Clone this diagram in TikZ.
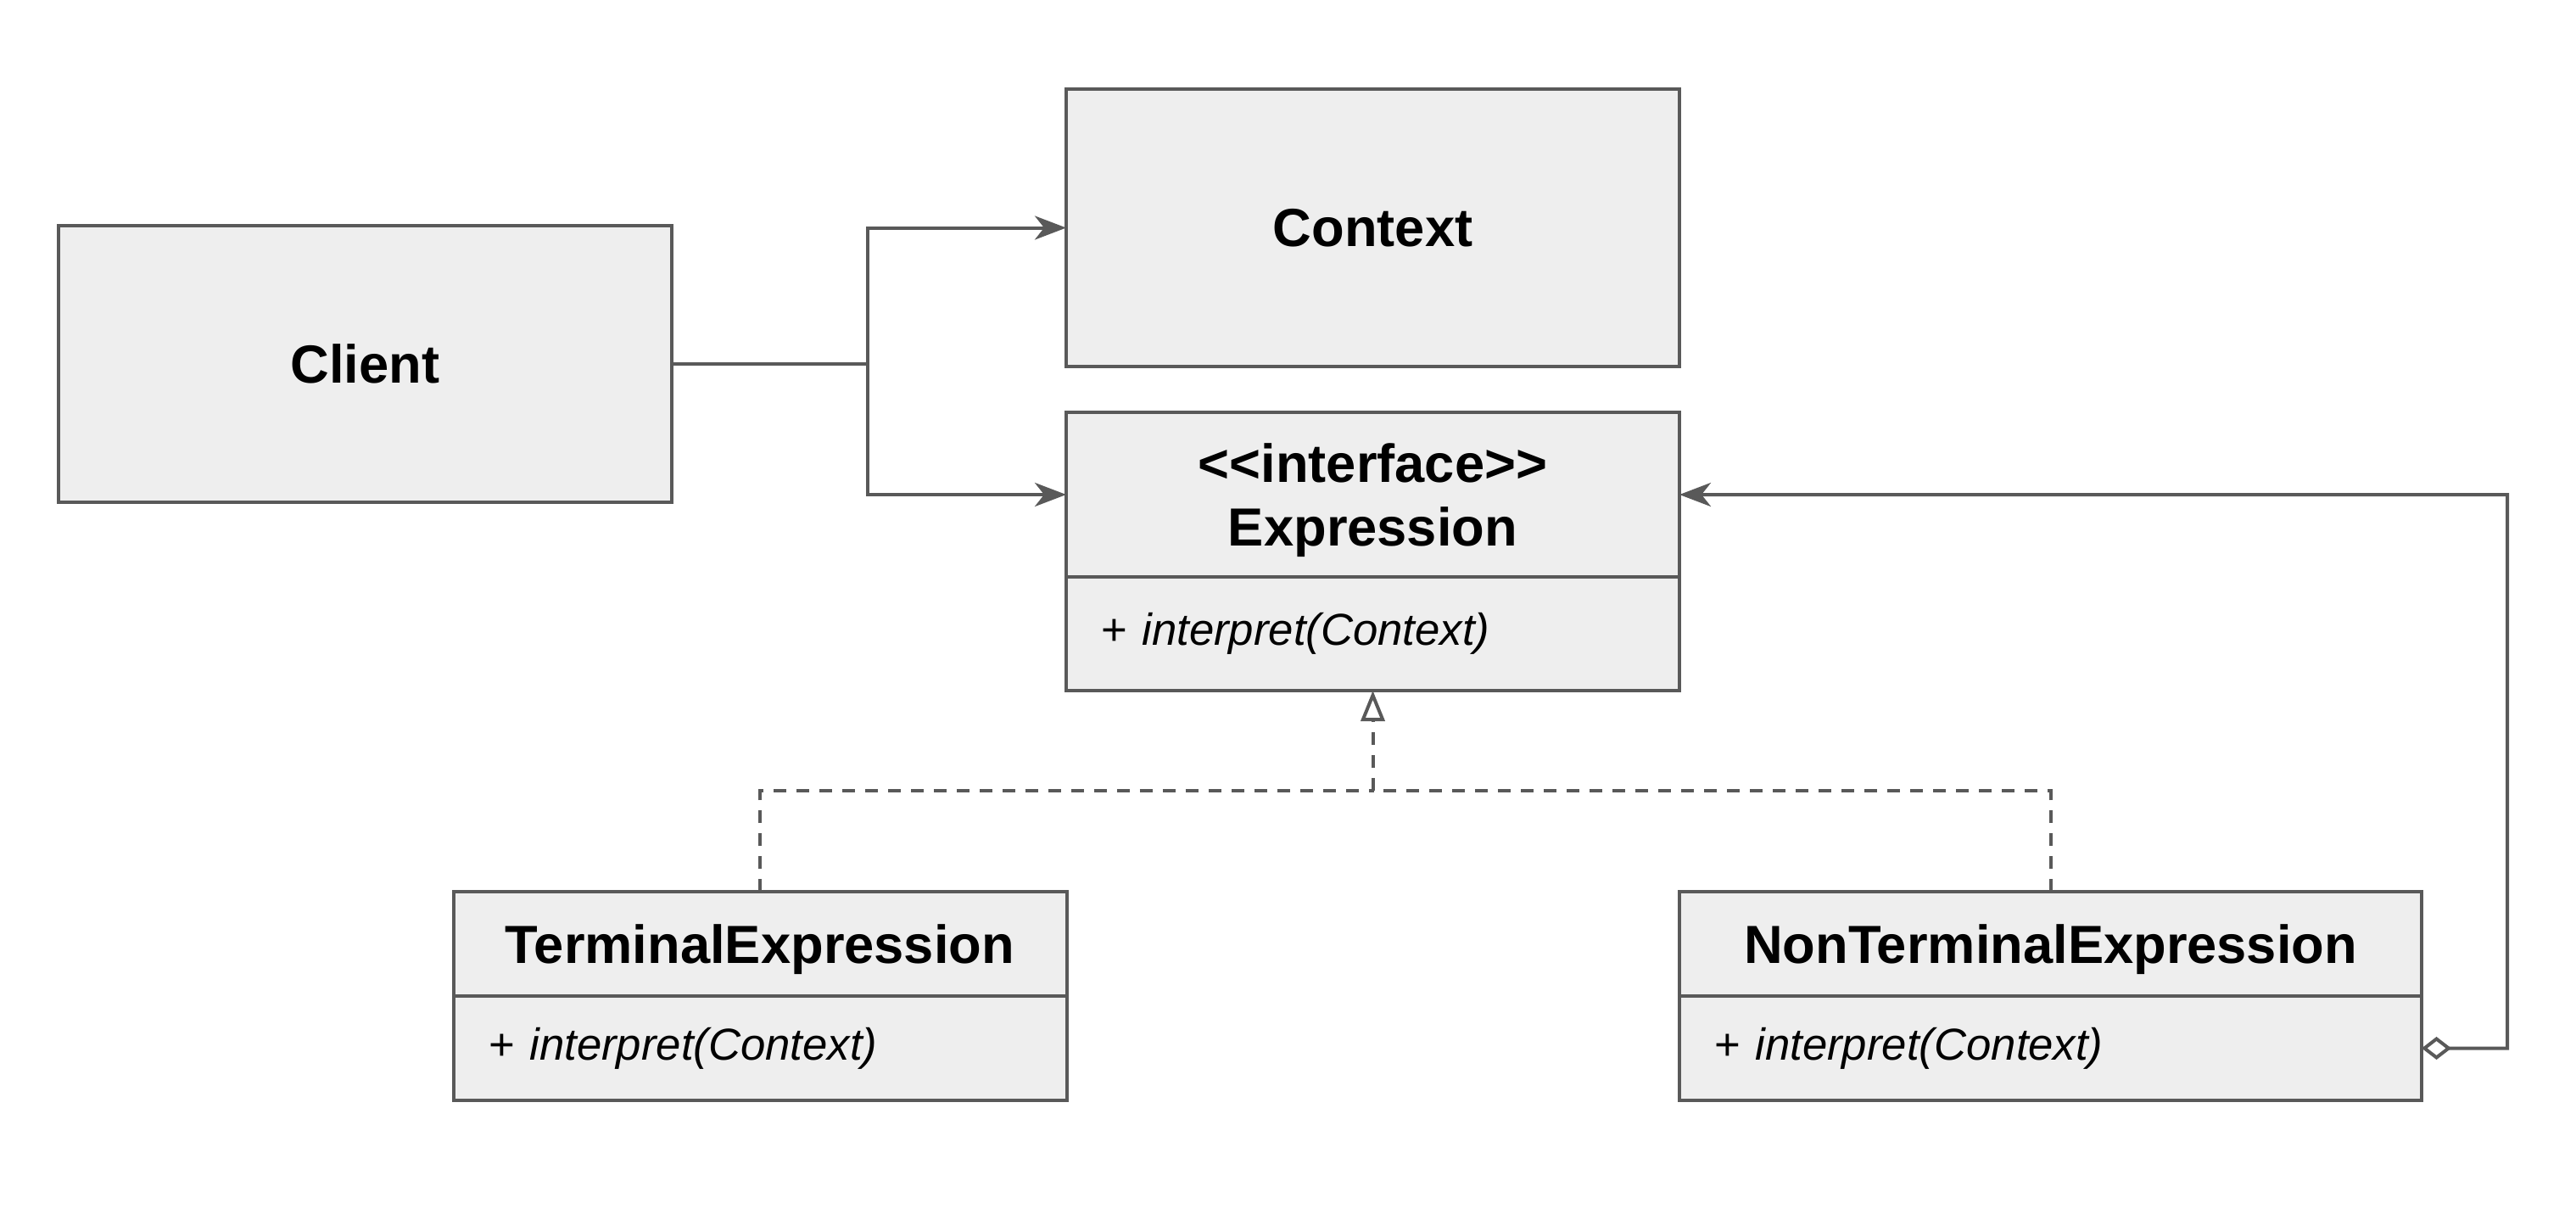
\documentclass[tikz,border=0pt]{standalone}
\usepackage{fontspec}
\setmainfont{Liberation Sans}
\usetikzlibrary{arrows.meta}
\usetikzlibrary{positioning}
\definecolor{umlfill}{HTML}{EEEEEE}
\definecolor{umlline}{HTML}{595959}
\tikzset{
  box/.style = {rectangle, draw = umlline, fill = umlfill, line width = 0.04cm,
    inner sep = 0pt, outer sep = 0pt, minimum width = 7.23cm,
    font = \fontsize{18}{21.5}\selectfont\bfseries, align = center},
  head/.style = {box, anchor = north, text depth = 0pt},
  ops/.style = {box, font = \fontsize{15}{18}\selectfont, align = left,
    inner xsep = 0.41cm, minimum height = 1.23cm},
  link/.style = {draw = umlline, line width = 0.04cm},
  uses/.style = {link, -{Stealth[length = 0.37cm, width = 0.28cm, inset = 0.11cm]}},
  realizes/.style = {link, dash pattern = on 0.15cm off 0.12cm},
  owns/.style = {link, {Diamond[open, length = 0.35cm, width = 0.27cm]}-{Stealth[length = 0.37cm, width = 0.28cm, inset = 0.11cm]}},
}

\begin{document}
\begin{tikzpicture}
  \useasboundingbox (0, 0) rectangle (30.37, -14.37);
  % classes
  \node [box, minimum height = 3.26cm] (client) at (4.305, -4.29) {Client};
  \node [box, minimum height = 3.27cm] (context) at (16.185, -2.685) {Context};
  \node [head, minimum height = 1.94cm] (exprhead) at (16.185, -4.86)
    {<{}<interface>{}>\\Expression};
  \node [ops, text width = 6.41cm, minimum height = 1.34cm, below = 0pt of exprhead]
    (exprops) {+ \textit{interpret(Context)}};
  \node [head, minimum height = 1.23cm] (termhead) at (8.96, -10.51)
    {TerminalExpression};
  \node [ops, text width = 6.40cm, below = 0pt of termhead]
    (termops) {+ \textit{interpret(Context)}};
  \node [head, minimum width = 8.75cm, minimum height = 1.23cm]
    (nonhead) at (24.175, -10.51) {NonTerminalExpression};
  \node [ops, text width = 7.93cm, below = 0pt of nonhead]
    (nonops) {+ \textit{interpret(Context)}};

  % bends
  \coordinate (fork) at (10.23, -4.29);
  \coordinate (join) at (16.185, -9.32);
  \coordinate (turn) at (29.56, -5.83);

  % connectors
  \draw [link] (client.east) -- (fork);
  \draw [uses] (fork) |- (context.west);
  \draw [uses] (fork) |- (exprhead.west);
  \draw [realizes] (termhead.north) |- (join);
  \draw [realizes] (nonhead.north) |- (join);
  \draw [realizes, -{Triangle[open, length = 0.36cm, width = 0.28cm]}]
    (join) -- (exprops.south);
  \draw [owns] (nonops.east) -| (turn) -- (exprhead.east);
\end{tikzpicture}
\end{document}
